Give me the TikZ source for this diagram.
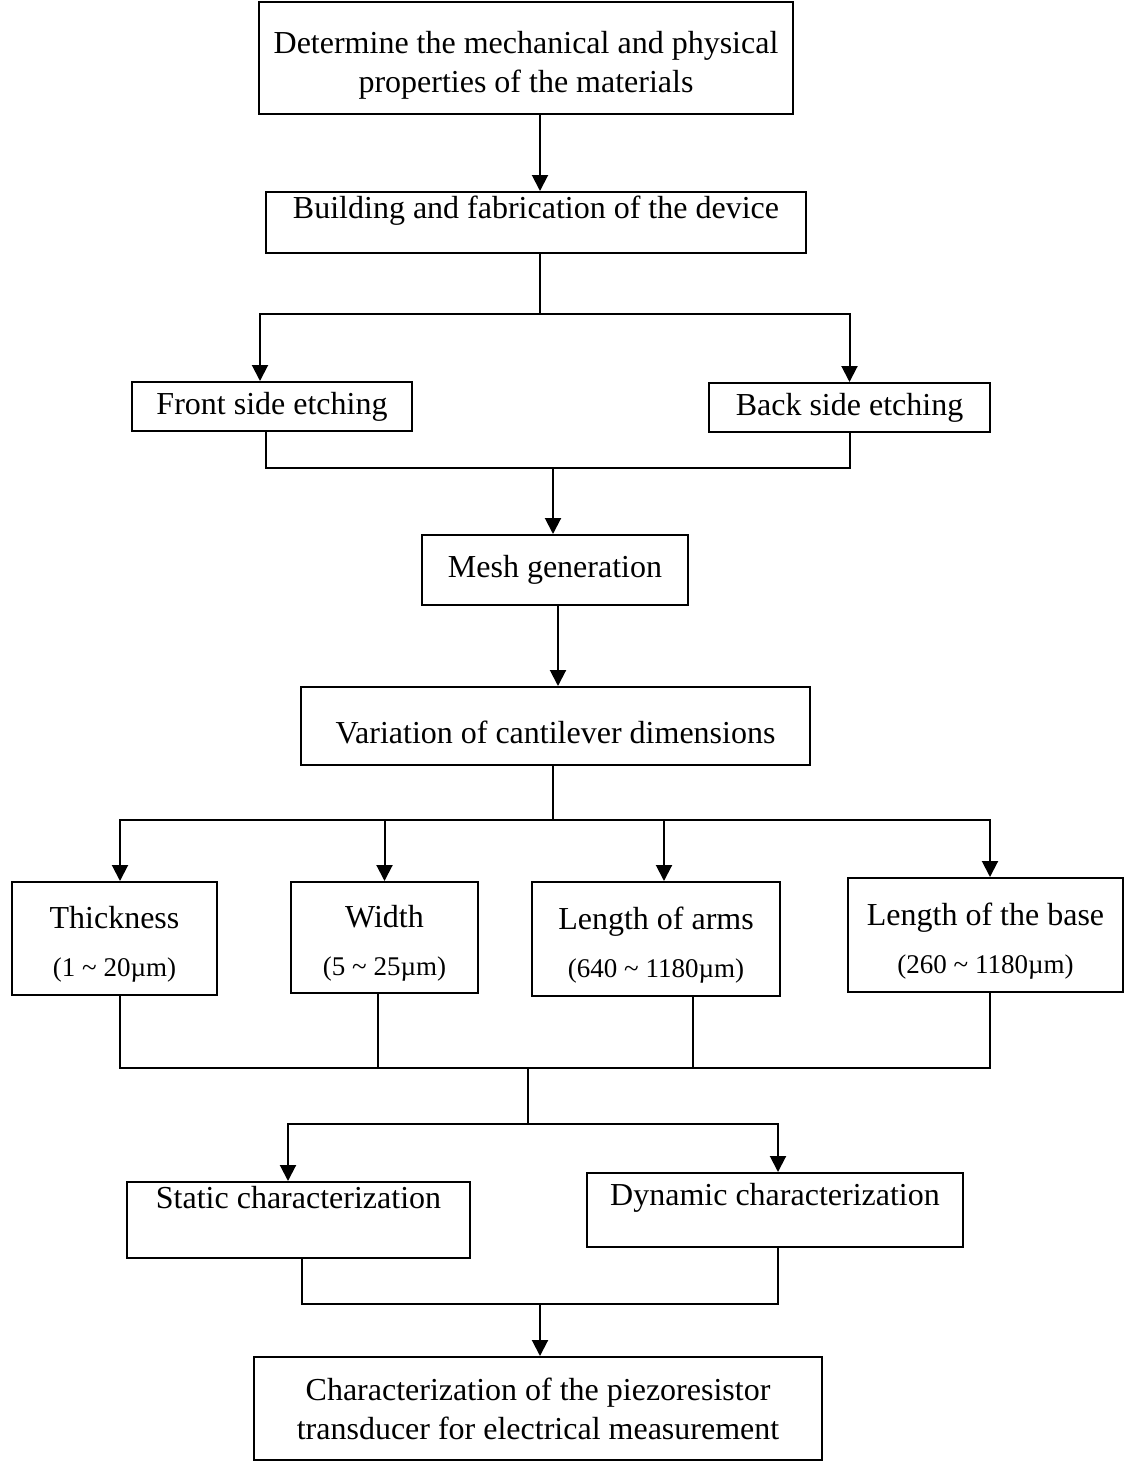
\documentclass[tikz,border=0pt]{standalone}
\usepackage{fontspec}
\setmainfont{Liberation Serif}
\usetikzlibrary{arrows.meta}
\tikzset{%
  stage/.style={draw,line width=1pt,inner sep=0pt,align=center,
    font=\fontsize{16}{19.5}\selectfont},
  flow/.style={line width=1pt,-{Triangle[width=8pt,length=8pt]}},
  link/.style={line width=1pt}
}
\newcommand{\rangetext}[1]{{\fontsize{13.5}{16}\selectfont #1}}

\begin{document}
\begin{tikzpicture}[x=0.5pt,y=-0.5pt]
  \useasboundingbox (0,0) rectangle (1125,1462);

  % stages
  \node[stage,minimum width=267pt,minimum height=56pt] (prop) at (526,58)
    {\rule{0pt}{18pt}Determine the mechanical and physical\\properties of the materials};
  \node[stage,minimum width=270pt,minimum height=30.5pt,text depth=15.5pt] (build) at (536,222.5)
    {Building and fabrication of the device};
  \node[stage,minimum width=140pt,minimum height=24.5pt] (front) at (272,406.5) {Front side etching};
  \node[stage,minimum width=140.5pt,minimum height=24.5pt] (back) at (849.5,407.5) {Back side etching};
  \node[stage,minimum width=133pt,minimum height=35pt] (mesh) at (555,570) {Mesh generation};
  \node[stage,minimum width=254.5pt,minimum height=39pt,text height=18pt] (vary) at (555.5,726)
    {Variation of cantilever dimensions};

  % dimensions
  \node[stage,minimum width=102.5pt,minimum height=56.5pt] (thick) at (114.5,938.5)
    {\rule{0pt}{17pt}Thickness\\[4.5pt]\rangetext{(1 \textasciitilde{} 20µm)}};
  \node[stage,minimum width=93.5pt,minimum height=55.5pt] (width) at (384.5,937.5)
    {\rule{0pt}{17pt}Width\\[4.5pt]\rangetext{(5 \textasciitilde{} 25µm)}};
  \node[stage,minimum width=124pt,minimum height=57pt] (arms) at (656,939)
    {\rule{0pt}{17pt}Length of arms\\[4.5pt]\rangetext{(640 \textasciitilde{} 1180µm)}};
  \node[stage,minimum width=137.5pt,minimum height=57pt] (base) at (985.5,935)
    {\rule{0pt}{17pt}Length of the base\\[4.5pt]\rangetext{(260 \textasciitilde{} 1180µm)}};

  % characterization
  \node[stage,minimum width=171.5pt,minimum height=38pt,text depth=22.5pt] (static) at (298.5,1220)
    {Static characterization};
  \node[stage,minimum width=188pt,minimum height=37pt,text depth=15.5pt] (dyn) at (775,1210)
    {Dynamic characterization};
  \node[stage,minimum width=284pt,minimum height=51.5pt] (final) at (538,1408.5)
    {Characterization of the piezoresistor\\transducer for electrical measurement};

  % junctions
  \coordinate (split1) at (540,314);
  \coordinate (merge1) at (553,468);
  \coordinate (split2) at (553,820);
  \coordinate (merge2) at (528,1068);
  \coordinate (split3) at (528,1124);
  \coordinate (merge3) at (540,1304);

  \draw[flow] (prop.south -| split1) -- (build.north -| split1);
  \draw[link] (build.south -| split1) -- (split1);
  \draw[flow] (split1) -| ([xshift=-6pt]front.north);
  \draw[flow] (split1) -| (back.north);
  \draw[link] ([xshift=-3pt]front.south) |- (merge1);
  \draw[link] (back.south) |- (merge1);
  \draw[flow] (merge1) -- (mesh.north -| merge1);
  \draw[flow] ([xshift=1.5pt]mesh.south) -- ([xshift=1.5pt]mesh.south |- vary.north);

  \draw[link] (vary.south -| split2) -- (split2);
  \draw[flow] (split2) -| ([xshift=2.75pt]thick.north);
  \draw[flow] (split2) -| (width.north);
  \draw[flow] (split2) -| ([xshift=4pt]arms.north);
  \draw[flow] (split2) -| ([xshift=2.25pt]base.north);

  \draw[link] ([xshift=2.75pt]thick.south) |- (merge2);
  \draw[link] ([xshift=-3.25pt]width.south) |- (merge2);
  \draw[link] ([xshift=18.5pt]arms.south) |- (merge2);
  \draw[link] ([xshift=2.25pt]base.south) |- (merge2);
  \draw[link] (merge2) -- (split3);
  \draw[flow] (split3) -| ([xshift=-5.25pt]static.north);
  \draw[flow] (split3) -| ([xshift=1.5pt]dyn.north);

  \draw[link] ([xshift=1.75pt]static.south) |- (merge3);
  \draw[link] ([xshift=1.5pt]dyn.south) |- (merge3);
  \draw[flow] (merge3) -- (final.north -| merge3);
\end{tikzpicture}
\end{document}
